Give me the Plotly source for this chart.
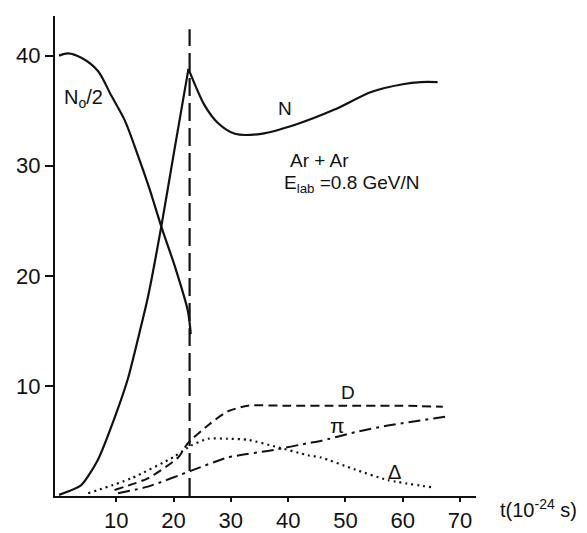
import plotly.graph_objects as go

# N0/2 (falling)
t_n0 = [0, 1.6, 3.9, 6.8, 9.1, 11.5, 13.8, 15.8, 17.9, 20.2, 22.5, 23.0]
v_n0 = [40.0, 40.2, 39.8, 38.6, 36.4, 34.1, 30.9, 27.9, 24.4, 20.9, 16.8, 14.7]

# N (rising to peak then falling and recovering)
t_n = [0, 3.9, 6.8, 9.7, 12.0, 13.8, 15.5, 17.9, 20.2, 22.6, 25.4, 27.7, 30.7, 35.3, 41.1, 48.1, 54.5, 60.0, 63.2, 66.1]
v_n = [0.1, 1.0, 3.3, 7.1, 10.6, 14.3, 18.0, 24.6, 31.6, 38.8, 35.5, 33.9, 32.9, 32.9, 33.7, 35.1, 36.7, 37.4, 37.6, 37.6]
n_peak = 9  # index of the cusp

# D
t_d = [9.7, 15.5, 20.8, 22.5, 26.2, 29.5, 33.0, 40, 50, 60, 67.0]
v_d = [0.55, 1.6, 3.5, 4.8, 6.5, 7.7, 8.2, 8.2, 8.2, 8.2, 8.1]

# Delta
t_del = [5.1, 12.6, 20.2, 23.1, 26.0, 29.5, 33.0, 37.7, 43.5, 45.7, 51.7, 57.4, 65.6]
v_del = [0.25, 1.6, 3.6, 4.6, 5.2, 5.2, 5.1, 4.5, 3.7, 3.5, 2.4, 1.45, 0.75]

# pi
t_pi = [10.3, 15.5, 23.1, 29.5, 37.7, 43.5, 45.7, 51.7, 57.4, 67.4]
v_pi = [0.25, 0.85, 2.3, 3.5, 4.2, 4.8, 5.0, 5.8, 6.4, 7.2]

# vertical dashed line
t_vert = [22.8, 22.8]
v_vert = [0, 42.4]

x_ticks = [10, 20, 30, 40, 50, 60, 70]
y_ticks = [10, 20, 30, 40]

FONT = "Liberation Sans, Arial, sans-serif"
black = "#111111"

def line(x, y, dash=None, width=2.2, smooth=True, smoothing=0.8):
    d = dict(color=black, width=width)
    if dash:
        d["dash"] = dash
    if smooth:
        d["shape"] = "spline"
        d["smoothing"] = smoothing
    return go.Scatter(x=x, y=y, mode="lines", line=d, hoverinfo="skip")

fig = go.Figure()
fig.add_trace(line(t_n0, v_n0))
fig.add_trace(line(t_n[:n_peak + 1], v_n[:n_peak + 1], smoothing=0.6))
fig.add_trace(line(t_n[n_peak:], v_n[n_peak:], smoothing=0.8))
fig.add_trace(line(t_d, v_d, dash="9px,5px", width=2, smoothing=0.6))
fig.add_trace(line(t_del, v_del, dash="2px,4px", width=2.2, smoothing=0.6))
fig.add_trace(line(t_pi, v_pi, dash="12px,5px,3px,5px", width=2, smoothing=0.6))
fig.add_trace(line(t_vert, v_vert, dash="18px,7px", width=2.2, smooth=False))

ann = [
    (4.2, 36.1, "N<sub>o</sub>/2", 20, "center"),
    (39.4, 35.2, "N", 19, "center"),
    (40.0, 30.5, "Ar + Ar", 19, "left"),
    (39.0, 28.3, "E<sub>lab</sub> =0.8 GeV/N", 19, "left"),
    (50.4, 9.4, "D", 19, "center"),
    (48.7, 6.4, "π", 21, "center"),
    (58.5, 2.2, "Δ", 20, "center"),
]
annotations = [dict(x=x, y=y, text=t, xref="x", yref="y", showarrow=False, xanchor=xa,
                    font=dict(family=FONT, color=black, size=s)) for x, y, t, s, xa in ann]
annotations.append(dict(xref="paper", yref="paper", x=1.052, y=-0.026, xanchor="left", yanchor="middle",
                        text="t(10<sup>-24</sup> s)", showarrow=False,
                        font=dict(family=FONT, color=black, size=20)))

fig.update_layout(
    width=587, height=533,
    margin=dict(l=47, r=119, t=8, b=29),
    paper_bgcolor="white", plot_bgcolor="white",
    showlegend=False,
    font=dict(family=FONT, color=black, size=22),
    annotations=annotations,
    xaxis=dict(range=[-0.7, 72.8], tickvals=x_ticks, showline=True, linecolor=black, linewidth=2,
               ticks="outside", ticklen=4, tickwidth=1.5, tickcolor=black, showgrid=False, zeroline=False),
    yaxis=dict(range=[0, 43.6], tickvals=y_ticks, showline=True, linecolor=black, linewidth=2,
               ticks="outside", ticklen=8, tickwidth=1.5, tickcolor=black, showgrid=False, zeroline=False),
)

fig.write_html("out.html")
